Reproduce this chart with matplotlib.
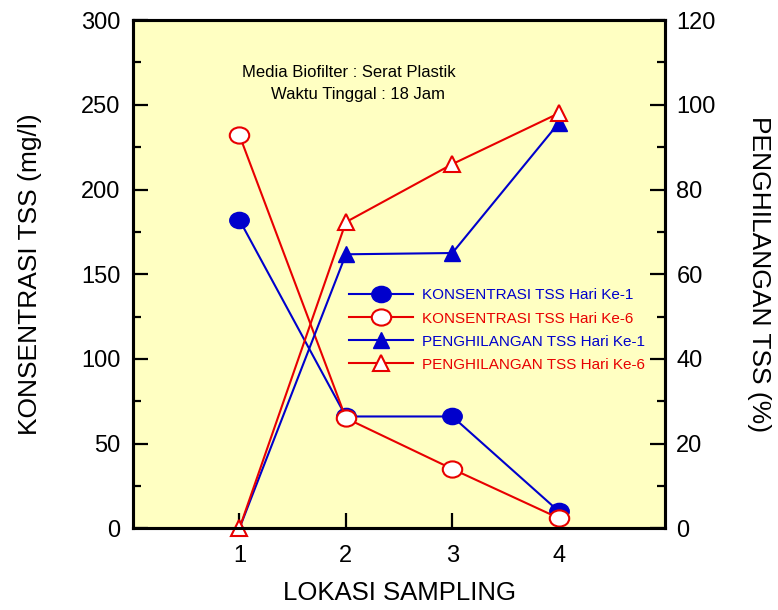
import matplotlib
matplotlib.use("Agg")
import matplotlib.pyplot as plt
from matplotlib.path import Path
from matplotlib.ticker import MultipleLocator
import numpy as np

plt.rcParams['font.family'] = ['Liberation Sans', 'DejaVu Sans']

# data
lokasi = [1, 2, 3, 4]
konsentrasi_h1 = [182, 66, 66, 10]
konsentrasi_h6 = [232, 65, 35, 6]
penghilangan_h1 = [0, 64.7, 65, 95.7]
penghilangan_h6 = [0, 72.3, 86, 98]

xticks = [1, 2, 3, 4]
left_ticks = [0, 50, 100, 150, 200, 250, 300]
right_ticks = [0, 20, 40, 60, 80, 100, 120]

blue = '#0000CC'
red = '#E80000'

# slightly wide ellipse marker like the original
uc = Path.unit_circle()
ellipse = Path(uc.vertices * np.array([1.2, 1.0]), uc.codes)

fig = plt.figure(figsize=(7.78, 6.10), dpi=100)
ax = fig.add_axes([0.171, 0.134, 0.684, 0.833])
ax.set_facecolor('#FFFFC2')
ax2 = ax.twinx()

l1, = ax.plot(lokasi, konsentrasi_h1, color=blue, lw=1.5, marker=ellipse,
              markersize=14, markerfacecolor=blue, markeredgecolor=blue,
              label='KONSENTRASI TSS Hari Ke-1')
l2, = ax.plot(lokasi, konsentrasi_h6, color=red, lw=1.5, marker=ellipse,
              markersize=14, markerfacecolor='white', markeredgecolor=red,
              markeredgewidth=1.5, label='KONSENTRASI TSS Hari Ke-6')
l3, = ax2.plot(lokasi, penghilangan_h1, color=blue, lw=1.5, marker='^',
               markersize=11, markerfacecolor=blue, markeredgecolor=blue,
               label='PENGHILANGAN TSS Hari Ke-1')
l4, = ax2.plot(lokasi, penghilangan_h6, color=red, lw=1.5, marker='^',
               markersize=11, markerfacecolor='white', markeredgecolor=red,
               markeredgewidth=1.5, label='PENGHILANGAN TSS Hari Ke-6', clip_on=False)

ax.set_xlim(0, 5)
ax.set_ylim(0, 300)
ax2.set_ylim(0, 120)
ax.set_xticks(xticks)
ax.set_yticks(left_ticks)
ax2.set_yticks(right_ticks)
ax.yaxis.set_minor_locator(MultipleLocator(25))
ax2.yaxis.set_minor_locator(MultipleLocator(10))

for a in (ax, ax2):
    a.tick_params(which='major', direction='in', length=11, width=1.6, labelsize=17)
    a.tick_params(which='minor', direction='in', length=6, width=1.6)
    for s in a.spines.values():
        s.set_linewidth(2.2)
ax.tick_params(axis='x', pad=12)
ax.tick_params(axis='y', pad=9)
ax2.tick_params(axis='y', pad=8)

ax.set_xlabel('LOKASI SAMPLING', fontsize=18.5, labelpad=10)
ax.set_ylabel('KONSENTRASI TSS (mg/l)', fontsize=19, labelpad=28)
ax2.set_ylabel('PENGHILANGAN TSS (%)', fontsize=19, rotation=270, labelpad=40)

ax.text(2.03, 269, 'Media Biofilter : Serat Plastik', fontsize=12, ha='center', va='center')
ax.text(2.11, 256, 'Waktu Tinggal : 18 Jam', fontsize=12, ha='center', va='center')

leg = ax2.legend(handles=[l1, l2, l3, l4], loc='center left',
                 bbox_to_anchor=(0.38, 0.39), frameon=False, fontsize=11,
                 handlelength=4.2, labelspacing=0.6, handletextpad=0.6)
for t, h in zip(leg.get_texts(), [l1, l2, l3, l4]):
    t.set_color(h.get_color())

fig.savefig('out.png', dpi=100)
